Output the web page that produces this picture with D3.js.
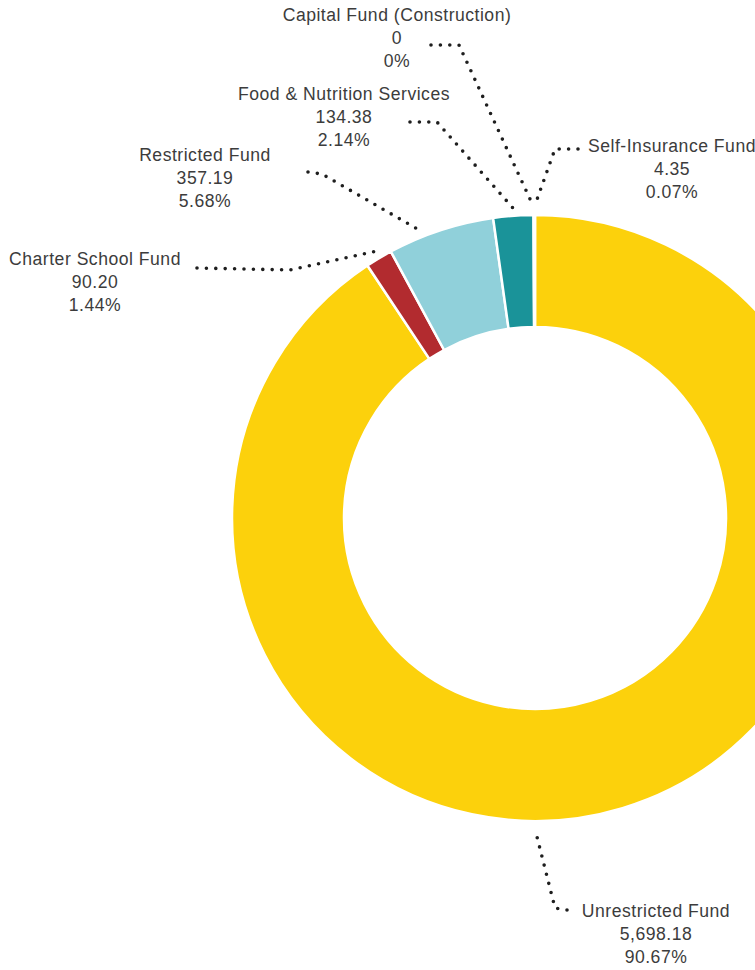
<!DOCTYPE html>
<html>
<head>
<meta charset="utf-8">
<script src="https://cdn.jsdelivr.net/npm/d3@7"></script>
<style>
  html, body { margin: 0; padding: 0; background: #fff; overflow: hidden; }
  svg { display: block; }
  .lbl { font-family: "Liberation Sans", Arial, sans-serif; font-size: 17.6px; fill: #3c3c3c; letter-spacing: 0.5px; }
</style>
</head>
<body>
<svg id="chart" width="755" height="970"></svg>
<script>
// Fund totals (millions), listed clockwise from 12 o'clock
const categories = [
  "Unrestricted Fund",
  "Charter School Fund",
  "Restricted Fund",
  "Food & Nutrition Services",
  "Capital Fund (Construction)",
  "Self-Insurance Fund"
];
const values = [5698.18, 90.20, 357.19, 134.38, 0, 4.35];
const colors = ["#fcd10c", "#b22b2f", "#90d0da", "#1a9399", "#90d0da", "#90d0da"];

// Label placement: text centre / first baseline, leader start, elbow, preferred anchor angle (deg)
const labelLayout = [
  { tx: 656, ty: 917, start: [567, 910], elbow: [555, 908], prefer: 180 },
  { tx: 95,  ty: 265, start: [197, 268], elbow: [290, 270], prefer: 320 },
  { tx: 205, ty: 161, start: [308, 172], elbow: [322, 174], prefer: 338 },
  { tx: 344, ty: 100, start: [410, 122], elbow: [437, 122], prefer: 350 },
  { tx: 397, ty: 21,  start: [431, 45],  elbow: [459, 45],  prefer: 356 },
  { tx: 672, ty: 152, start: [578, 149], elbow: [555, 149], prefer: 358 }
];

const cx = 535, cy = 518, rOuter = 303, rInner = 191, lineGap = 22.8;

const svg = d3.select("#chart");
const total = d3.sum(values);
const fmtVal = v => v === 0 ? "0" : d3.format(",.2f")(v);
const fmtPct = v => v === 0 ? "0%" : d3.format(".2%")(v / total);

const data = categories.map((c, i) => ({ name: c, value: values[i], color: colors[i], layout: labelLayout[i] }));

const pie = d3.pie().value(d => d.value).sort(null).startAngle(0).endAngle(2 * Math.PI);
const arcs = pie(data);
const arc = d3.arc().innerRadius(rInner).outerRadius(rOuter);

const g = svg.append("g").attr("transform", `translate(${cx},${cy})`);
g.selectAll("path.slice")
  .data(arcs)
  .join("path")
  .attr("class", "slice")
  .attr("d", arc)
  .attr("fill", d => d.data.color)
  .attr("stroke", "#fff")
  .attr("stroke-width", 2.5)
  .attr("stroke-linejoin", "miter");

// Leader lines: label -> elbow -> point just outside the slice
const toRad = deg => deg * Math.PI / 180;
function anchorPoint(a) {
  let ang = toRad(a.data.layout.prefer);
  if (ang < a.startAngle || ang > a.endAngle) ang = (a.startAngle + a.endAngle) / 2;
  const r = rOuter + 8;
  return [cx + r * Math.sin(ang), cy - r * Math.cos(ang)];
}

svg.selectAll("path.leader")
  .data(arcs)
  .join("path")
  .attr("class", "leader")
  .attr("d", d => d3.line()([d.data.layout.start, d.data.layout.elbow, anchorPoint(d)]))
  .attr("fill", "none")
  .attr("stroke", "#1e1e1e")
  .attr("stroke-width", 3.6)
  .attr("stroke-linecap", "round")
  .attr("stroke-linejoin", "round")
  .attr("stroke-dasharray", "0 9.4");

// Three-line labels: name, amount, share
const labels = svg.selectAll("text.lbl")
  .data(arcs)
  .join("text")
  .attr("class", "lbl")
  .attr("text-anchor", "middle")
  .attr("x", d => d.data.layout.tx)
  .attr("y", d => d.data.layout.ty);

labels.each(function (d) {
  const t = d3.select(this);
  [d.data.name, fmtVal(d.data.value), fmtPct(d.data.value)].forEach((s, i) => {
    t.append("tspan")
      .attr("x", d.data.layout.tx)
      .attr("y", d.data.layout.ty + i * lineGap)
      .text(s);
  });
});
</script>
</body>
</html>
